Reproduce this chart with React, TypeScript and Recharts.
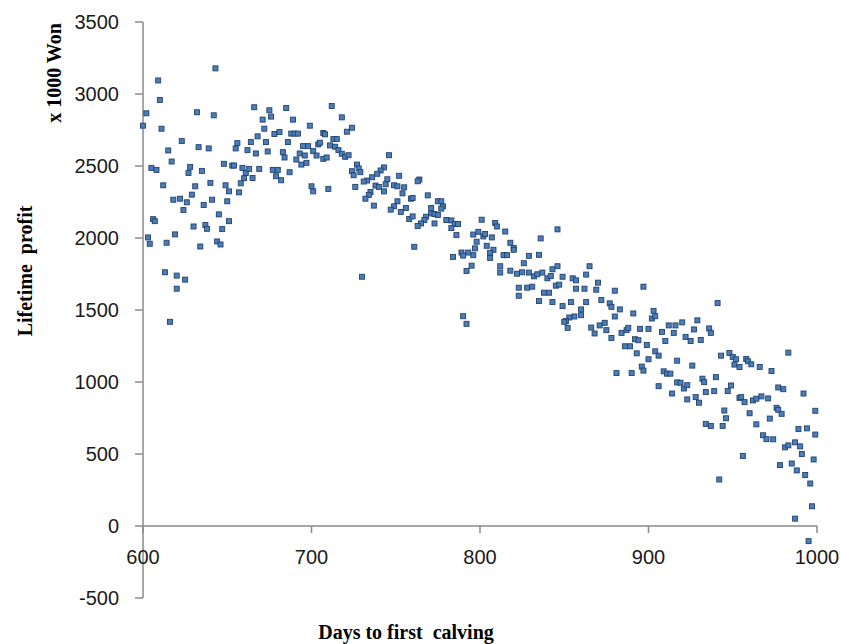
import { ScatterChart, Scatter, XAxis, YAxis, ReferenceLine } from "recharts";

// Days to first calving vs lifetime profit (x 1000 Won)
const days = [
  643, 609, 610, 602, 600, 611, 632, 642, 666, 675, 676, 685, 689, 699, 671, 672, 668, 678, 681, 688,
  690, 692, 623, 656, 655, 664, 673, 686, 695, 698, 701, 615, 633, 639, 662, 667, 674, 683, 684, 693,
  696, 691, 694, 697, 617, 605, 608, 628, 627, 635, 648, 653, 654, 659, 661, 663, 660, 658, 657, 665,
  669, 677, 680, 679, 682, 687, 700, 701, 612, 631, 640, 649, 651, 650, 629, 618, 622, 626, 624, 636,
  641, 645, 651, 606, 607, 630, 637, 638, 647, 603, 604, 614, 619, 634, 644, 646, 613, 620, 625, 620,
  616,
  712, 718, 707, 708, 721, 724, 713, 715, 704, 705, 711, 714, 716, 703, 707, 709, 718, 720, 722, 746,
  727, 728, 724, 725, 729, 743, 741, 739, 736, 733, 731, 752, 745, 764, 763, 710, 726, 738, 740, 743,
  744, 749, 751, 755, 754, 735, 734, 732, 737, 751, 749, 747, 753, 756, 759, 760, 769, 775, 777, 778,
  777, 771, 771, 768, 767, 765, 763, 773, 775, 773, 758, 760, 780, 783, 785, 783, 787, 786, 801, 796,
  799, 802, 803, 798, 797, 796, 795, 792, 793, 789, 790, 784, 761, 730, 790, 792,
  809, 810, 807, 815, 846, 836, 818, 820, 820, 804, 808, 806, 806, 814, 816, 829, 835, 826, 812, 812,
  818, 822, 825, 829, 832, 834, 837, 840, 842, 843, 846, 865, 863, 849, 855, 857, 870, 897, 823, 828,
  831, 845, 847, 857, 862, 869, 880, 823, 838, 841,
  835, 843, 849, 854, 863, 860, 860, 856, 853, 851, 850, 852, 872, 877, 878, 883, 880, 891, 903, 902,
  904, 866, 868, 871, 874, 875, 878, 884, 887, 888, 895, 900, 886, 889, 892, 894, 899, 893, 900, 896,
  897, 881, 890, 904,
  941, 912, 916, 920, 929, 908, 915, 910, 922, 925, 927, 931, 936, 937, 906, 917, 909, 911, 913, 926,
  906, 914, 917, 919, 921, 923, 923, 928, 930, 932, 933, 934, 939, 940, 947, 949, 943, 948, 950, 952,
  951, 954, 958, 959, 961, 966, 973, 983, 945, 946, 944, 934, 937, 954, 955, 957, 962, 964, 967, 971,
  960, 964, 972, 976, 977, 979, 977, 980, 992, 999, 968, 970, 974, 989, 994, 999, 981, 983, 987, 990,
  991, 998, 956, 978, 985, 988, 993, 996, 942, 997, 987, 995,
];

const profit = [
  3178, 3094, 2959, 2866, 2780, 2759, 2873, 2852, 2908, 2887, 2843, 2903, 2822, 2780, 2822, 2759, 2706, 2722, 2736, 2725,
  2725, 2725, 2673, 2659, 2622, 2666, 2666, 2666, 2638, 2638, 2603, 2608, 2631, 2622, 2610, 2587, 2601, 2596, 2559, 2587,
  2573, 2545, 2510, 2522, 2531, 2487, 2473, 2494, 2452, 2466, 2515, 2503, 2503, 2487, 2452, 2480, 2415, 2380, 2317, 2417,
  2480, 2473, 2473, 2429, 2401, 2457, 2359, 2324, 2366, 2359, 2383, 2366, 2324, 2255, 2301, 2266, 2273, 2248, 2194, 2229,
  2266, 2164, 2117, 2131, 2117, 2080, 2090, 2064, 2062, 2004, 1960, 1967, 2025, 1941, 1976, 1955, 1762, 1739, 1711, 1648,
  1418,
  2917, 2838, 2729, 2720, 2738, 2766, 2687, 2687, 2650, 2662, 2643, 2634, 2610, 2573, 2550, 2559, 2585, 2564, 2575, 2575,
  2510, 2483, 2464, 2436, 2457, 2490, 2469, 2446, 2422, 2399, 2392, 2432, 2408, 2406, 2394, 2341, 2355, 2364, 2355, 2324,
  2373, 2366, 2359, 2352, 2310, 2320, 2299, 2273, 2225, 2255, 2220, 2197, 2181, 2208, 2273, 2278, 2296, 2255, 2255, 2220,
  2204, 2208, 2171, 2148, 2125, 2101, 2083, 2167, 2160, 2101, 2132, 2150, 2125, 2122, 2097, 2069, 2097, 2020, 2127, 2024,
  2043, 2011, 2028, 1974, 1928, 1881, 1808, 1771, 1899, 1899, 1878, 1869, 1939, 1731, 1457, 1404,
  2104, 2080, 2004, 2045, 2060, 1997, 1967, 1930, 1918, 1946, 1918, 1897, 1862, 1881, 1881, 1876, 1883, 1825, 1804, 1760,
  1773, 1752, 1762, 1760, 1734, 1748, 1760, 1720, 1736, 1783, 1804, 1804, 1746, 1731, 1720, 1706, 1690, 1662, 1655, 1655,
  1662, 1669, 1676, 1648, 1648, 1641, 1634, 1599, 1620, 1620,
  1562, 1555, 1527, 1555, 1555, 1504, 1464, 1455, 1448, 1423, 1418, 1376, 1569, 1546, 1522, 1504, 1455, 1476, 1494, 1441,
  1457, 1378, 1337, 1393, 1411, 1360, 1306, 1341, 1360, 1376, 1369, 1369, 1248, 1248, 1297, 1290, 1257, 1199, 1158, 1107,
  1079, 1062, 1062, 1213,
  1548, 1393, 1393, 1414, 1428, 1348, 1341, 1285, 1313, 1285, 1365, 1292, 1372, 1341, 1183, 1148, 1074, 1058, 1058, 1114,
  971, 920, 997, 995, 955, 978, 879, 895, 856, 1023, 999, 930, 937, 1034, 937, 976, 1183, 1202, 1174, 1158,
  1121, 1104, 1160, 1144, 1123, 1104, 1076, 1204, 802, 748, 695, 709, 695, 890, 895, 860, 872, 884, 900, 886,
  783, 706, 746, 821, 807, 779, 962, 950, 920, 800, 630, 603, 602, 674, 678, 635, 546, 560, 581, 553,
  500, 462, 486, 423, 434, 386, 354, 295, 323, 137, 51, -105,
];

const xTicks = [600, 700, 800, 900, 1000];
const yTicks = [-500, 0, 500, 1000, 1500, 2000, 2500, 3000, 3500];

const points = days.map((d, i) => ({ days: d, profit: profit[i] }));

const W = 841;
const H = 644;
const MARGIN = { top: 22, right: 24, bottom: 16, left: 83 };
const X_AXIS_H = 30;
const PLOT_H = H - MARGIN.top - MARGIN.bottom - X_AXIS_H;
// distance from the bottom of the plot (-500) up to the zero line
const ZERO_OFFSET = (PLOT_H * (0 - yTicks[0])) / (yTicks[yTicks.length - 1] - yTicks[0]);

const AXIS = "#8a8a8a";
const TICK_FONT = "'Liberation Sans', Arial, sans-serif";
const TITLE_FONT = "'Liberation Serif', 'Times New Roman', serif";

// x ticks hang off the zero line, not the bottom of the plot
function XTick(props: any) {
  const { x, y, payload } = props;
  const y0 = y - ZERO_OFFSET;
  return (
    <g>
      <line x1={x} x2={x} y1={y0} y2={y0 + 7} stroke={AXIS} strokeWidth={1.5} />
      <text x={x} y={y0 + 38} textAnchor="middle" fontFamily={TICK_FONT} fontSize={20} fill="#1a1a1a">
        {payload.value}
      </text>
    </g>
  );
}

function SquareDot(props: any) {
  const { cx, cy } = props;
  return (
    <rect x={cx - 2.5} y={cy - 2.5} width={5} height={5} fill="#4a7ebb" stroke="#23416b" strokeWidth={0.9} />
  );
}

const titleStyle = {
  position: "absolute" as const,
  fontFamily: TITLE_FONT,
  fontWeight: "bold" as const,
  fontSize: 20,
  color: "#000",
  whiteSpace: "pre" as const,
  lineHeight: "23px",
};

export default function App() {
  return (
    <div style={{ position: "relative", width: W, height: H, overflow: "hidden" }}>
      <style>{"html, body { margin: 0; overflow: hidden; }"}</style>
      <ScatterChart width={W} height={H} margin={MARGIN} style={{ overflow: "visible" }}>
        <XAxis
          type="number"
          dataKey="days"
          domain={[600, 1000]}
          ticks={xTicks}
          interval={0}
          height={X_AXIS_H}
          axisLine={false}
          tickLine={false}
          tickSize={0}
          tickMargin={0}
          tick={<XTick />}
        />
        <YAxis
          type="number"
          dataKey="profit"
          domain={[-500, 3500]}
          ticks={yTicks}
          interval={0}
          width={60}
          axisLine={{ stroke: AXIS, strokeWidth: 1.5 }}
          tickLine={{ stroke: AXIS, strokeWidth: 1.5 }}
          tickSize={8}
          tickMargin={16}
          tick={{ fontFamily: TICK_FONT, fontSize: 20, fill: "#1a1a1a" }}
        />
        <ReferenceLine y={0} stroke={AXIS} strokeWidth={1.5} />
        <Scatter data={points} shape={<SquareDot />} isAnimationActive={false} />
      </ScatterChart>
      <div style={{ ...titleStyle, left: 406, top: 632, transform: "translate(-50%, -50%)" }}>
        Days to first  calving
      </div>
      <div style={{ ...titleStyle, left: 25, top: 271, transform: "translate(-50%, -50%) rotate(-90deg)" }}>
        Lifetime  profit
      </div>
      <div style={{ ...titleStyle, left: 54, top: 73, transform: "translate(-50%, -50%) rotate(-90deg)" }}>
        x 1000 Won
      </div>
    </div>
  );
}
